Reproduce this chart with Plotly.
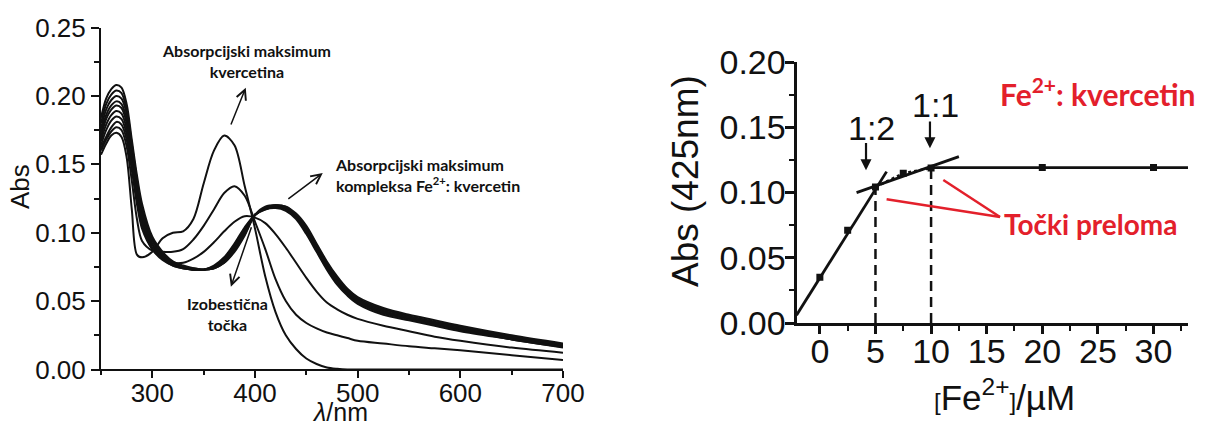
import plotly.graph_objects as go

# ---------------- Left panel: UV-Vis spectra ----------------
wl = [250, 255, 260, 265, 270, 275, 280, 285, 290, 300, 310, 320, 330, 340, 350, 360,
      370, 380, 390, 400, 410, 420, 430, 440, 450, 460, 470, 480, 490, 500, 525, 550,
      575, 600, 650, 700]

abs_quercetin = [.157, .165, .171, .173, .170, .155, .117, .084, .082, .086, .096, .100,
                 .101, .110, .136, .160, .171, .164, .134, .103, .068, .042, .025, .015,
                 .008, .004, .0015, .0005, 0, 0, 0, 0, 0, 0, 0, 0]
abs_fe_1 = [.160, .168, .174, .177, .175, .163, .138, .110, .094, .087, .086, .086, .088,
            .095, .105, .117, .129, .134, .127, .108, .088, .066, .050, .040, .034, .030,
            .027, .025, .023, .021, .019, .017, .0155, .014, .0105, .007]
abs_fe_2 = [.162, .170, .177, .181, .179, .168, .146, .121, .103, .088, .081, .078, .078,
            .081, .086, .093, .101, .108, .112, .111, .107, .099, .089, .078, .067, .057,
            .049, .044, .040, .037, .032, .028, .024, .021, .016, .0123]
abs_fe_3 = [.164, .175, .182, .185, .183, .172, .150, .124, .106, .088, .080, .076, .074,
            .073, .073, .076, .082, .092, .104, .113, .117, .118, .116, .110, .099, .086,
            .073, .062, .054, .048, .040, .036, .032, .028, .022, .016]
abs_fe_4 = [.167, .179, .186, .189, .187, .176, .153, .127, .108, .089, .081, .076, .074,
            .073, .073, .075, .081, .091, .103, .113, .117, .119, .117, .111, .100, .087,
            .074, .063, .055, .049, .041, .037, .033, .029, .022, .0165]
abs_fe_5 = [.170, .183, .190, .193, .191, .180, .156, .130, .111, .091, .082, .077, .074,
            .073, .073, .075, .080, .090, .102, .113, .118, .119, .118, .112, .101, .088,
            .075, .064, .056, .050, .042, .037, .033, .029, .023, .017]
abs_fe_6 = [.173, .186, .193, .196, .194, .183, .159, .133, .113, .092, .083, .077, .075,
            .073, .073, .075, .080, .089, .101, .113, .118, .1195, .118, .112, .102, .089,
            .076, .065, .057, .050, .042, .038, .034, .030, .023, .0175]
abs_fe_7 = [.176, .190, .197, .200, .198, .187, .162, .136, .116, .094, .084, .078, .075,
            .073, .073, .074, .079, .088, .100, .113, .118, .120, .118, .113, .103, .090,
            .077, .066, .057, .051, .043, .038, .034, .030, .024, .018]
abs_fe_8 = [.180, .194, .201, .204, .202, .190, .165, .139, .118, .095, .085, .078, .075,
            .074, .073, .074, .078, .087, .099, .113, .118, .120, .119, .113, .104, .091,
            .078, .067, .058, .052, .044, .039, .035, .031, .024, .0185]
abs_fe_9 = [.184, .198, .205, .208, .206, .194, .168, .142, .121, .097, .086, .079, .076,
            .074, .073, .074, .078, .086, .098, .113, .119, .120, .119, .114, .105, .092,
            .079, .068, .059, .053, .045, .040, .036, .032, .025, .019]

spectra = [abs_quercetin, abs_fe_1, abs_fe_2, abs_fe_3, abs_fe_4, abs_fe_5,
           abs_fe_6, abs_fe_7, abs_fe_8, abs_fe_9]

# ---------------- Right panel: titration at 425 nm ----------------
fe_conc = [0, 2.5, 5, 7.5, 10, 20, 30]
abs_425 = [0.0350, 0.0710, 0.1042, 0.1147, 0.1188, 0.1192, 0.1192]
fit1_x = [-2.1, 6.0]
fit1_y = [0.006, 0.116]
fit2_x = [3.3, 12.5]
fit2_y = [0.0999, 0.1275]
plateau_x = [10, 33.1]
plateau_y = [0.1190, 0.1190]
break_x = [5, 10]
break_y = [0.1042, 0.1188]
break_labels = ["1:2", "1:1"]
red_line1_x = [6.0, 16.2]
red_line1_y = [0.0948, 0.0812]
red_line2_x = [11.1, 16.2]
red_line2_y = [0.1096, 0.0812]

RED = "#e3202b"
TICKFONT_L = dict(family="Liberation Sans, Arial, sans-serif", size=26, color="#111")
TICKFONT_R = dict(family="Liberation Sans, Arial, sans-serif", size=34, color="#111")
ANN_FONT = "Lato, Open Sans, sans-serif"

fig = go.Figure()

for s in spectra:
    fig.add_trace(go.Scatter(x=wl, y=s, mode="lines", xaxis="x", yaxis="y",
                             line=dict(color="#111", width=2, shape="spline", smoothing=0.9),
                             showlegend=False, hoverinfo="skip"))

# right panel traces
fig.add_trace(go.Scatter(x=fit1_x, y=fit1_y, mode="lines", xaxis="x2", yaxis="y2",
                         line=dict(color="#111", width=2.8), showlegend=False))
fig.add_trace(go.Scatter(x=fit2_x, y=fit2_y, mode="lines", xaxis="x2", yaxis="y2",
                         line=dict(color="#111", width=2.8), showlegend=False))
fig.add_trace(go.Scatter(x=plateau_x, y=plateau_y, mode="lines", xaxis="x2", yaxis="y2",
                         line=dict(color="#111", width=2.8), showlegend=False))
for bx, by in zip(break_x, break_y):
    fig.add_trace(go.Scatter(x=[bx, bx], y=[0, by], mode="lines", xaxis="x2", yaxis="y2",
                             line=dict(color="#111", width=2.5, dash="10px,6px"),
                             showlegend=False))
fig.add_trace(go.Scatter(x=fe_conc[2:5], y=abs_425[2:5], mode="lines", xaxis="x2", yaxis="y2",
                         line=dict(color="#111", width=2.5, dash="dot"), showlegend=False))
fig.add_trace(go.Scatter(x=fe_conc, y=abs_425, mode="markers", xaxis="x2", yaxis="y2",
                         marker=dict(symbol="square", size=7, color="#111"),
                         showlegend=False))
for rx, ry in [(red_line1_x, red_line1_y), (red_line2_x, red_line2_y)]:
    fig.add_trace(go.Scatter(x=rx, y=ry, mode="lines", xaxis="x2", yaxis="y2",
                             line=dict(color=RED, width=2.5), showlegend=False))

axis_common = dict(showgrid=False, zeroline=False, showline=True, linecolor="#111",
                   ticks="outside", tickcolor="#111", mirror=False, automargin=False)

fig.update_layout(
    width=1205, height=424,
    margin=dict(l=0, r=0, t=0, b=0),
    paper_bgcolor="white", plot_bgcolor="white",
    xaxis=dict(domain=[0.08382, 0.46722], range=[250, 700], tick0=300, dtick=100,
               ticklen=7, tickwidth=2, linewidth=2, tickfont=TICKFONT_L,
               ticklabelstandoff=-8,
               minor=dict(dtick=50, tick0=250, ticklen=4, tickwidth=1.5, ticks="outside",
                          tickcolor="#111"),
               anchor="y", **axis_common),
    yaxis=dict(domain=[0.12854, 0.93514], range=[0, 0.25], dtick=0.05, tickformat=".2f",
               ticklen=8, tickwidth=2, linewidth=2, tickfont=TICKFONT_L,
               minor=dict(dtick=0.025, ticklen=5, tickwidth=1.5, ticks="outside",
                          tickcolor="#111"),
               anchor="x", **axis_common),
    xaxis2=dict(domain=[0.66100, 0.98589], range=[-2.1, 33.1], tick0=0, dtick=5,
                ticklen=8, tickwidth=2.5, linewidth=3, tickfont=TICKFONT_R,
                ticklabelstandoff=-12,
                minor=dict(dtick=2.5, tick0=0, ticklen=5, tickwidth=2, ticks="outside",
                           tickcolor="#111"),
                anchor="y2", **axis_common),
    yaxis2=dict(domain=[0.23821, 0.85377], range=[0, 0.20], dtick=0.05, tickformat=".2f",
                ticklen=9, tickwidth=2.5, linewidth=3, tickfont=TICKFONT_R,
                ticklabelstandoff=-8,
                minor=dict(dtick=0.025, ticklen=5, tickwidth=2, ticks="outside",
                           tickcolor="#111"),
                anchor="x2", **axis_common),
)

ann = []
# axis titles
ann.append(dict(text="Abs", xref="paper", yref="paper", x=20 / 1205, y=(424 - 187) / 424,
                textangle=-90, showarrow=False, xanchor="center", yanchor="middle",
                font=dict(family="Liberation Sans, Arial", size=26, color="#111")))
ann.append(dict(text="<i>λ</i>/nm", xref="paper", yref="paper", x=340 / 1205,
                y=(424 - 412) / 424, showarrow=False, xanchor="center", yanchor="middle",
                font=dict(family="Liberation Sans, Arial", size=25, color="#111")))
ann.append(dict(text="Abs (425nm)", xref="paper", yref="paper", x=685 / 1205,
                y=(424 - 181) / 424, textangle=-90, showarrow=False, xanchor="center",
                yanchor="middle",
                font=dict(family="Liberation Sans, Arial", size=37, color="#111")))
ann.append(dict(text="<span style='font-size:24px'>[</span>Fe<sup>2+</sup>"
                     "<span style='font-size:24px'>]</span>/µM",
                xref="paper", yref="paper", x=1004 / 1205, y=(424 - 395) / 424,
                showarrow=False, xanchor="center", yanchor="middle",
                font=dict(family="Liberation Sans, Arial", size=35, color="#111")))

# left panel labels
ann.append(dict(text="<b>Absorpcijski maksimum<br>kvercetina</b>", xref="paper", yref="paper",
                x=246 / 1205, y=(424 - 61.5) / 424, showarrow=False, xanchor="center",
                yanchor="middle", align="center",
                font=dict(family=ANN_FONT, size=16, color="#111")))
ann.append(dict(text="<b>Absorpcijski maksimum<br>kompleksa Fe<sup>2+</sup>: kvercetin</b>",
                xref="paper", yref="paper", x=333 / 1205, y=(424 - 175) / 424,
                showarrow=False, xanchor="left", yanchor="middle", align="left",
                font=dict(family=ANN_FONT, size=16, color="#111")))
ann.append(dict(text="<b>Izobestična<br>točka</b>", xref="paper", yref="paper",
                x=227 / 1205, y=(424 - 314) / 424, showarrow=False, xanchor="center",
                yanchor="middle", align="center",
                font=dict(family=ANN_FONT, size=16, color="#111")))

# left arrows (x,y = head; ax,ay = tail)
for hx, hy, tx, ty in [(391, 0.206, 376, 0.178), (466, 0.1436, 431, 0.1239),
                       (376.5, 0.0605, 397, 0.105)]:
    ann.append(dict(text="", x=hx, y=hy, ax=tx, ay=ty, xref="x", yref="y", axref="x",
                    ayref="y", showarrow=True, arrowhead=5, arrowsize=1.3, arrowwidth=1.5,
                    arrowcolor="#111"))

# right panel arrows and ratio labels
for bx, tip, tail, lab, ly in [(4.15, 0.117, 0.139, break_labels[0], 0.1498),
                              (9.9, 0.134, 0.1556, break_labels[1], 0.167)]:
    ann.append(dict(text="", x=bx, y=tip, ax=bx, ay=tail, xref="x2", yref="y2",
                    axref="x2", ayref="y2", showarrow=True, arrowhead=2, arrowsize=1,
                    arrowwidth=2.2, arrowcolor="#111"))
    ann.append(dict(text=lab, x=bx + 0.5, y=ly, xref="x2", yref="y2", showarrow=False,
                    xanchor="center", yanchor="middle",
                    font=dict(family="Liberation Sans, Arial", size=34, color="#111")))

# red annotations
ann.append(dict(text="<b>Fe<sup>2+</sup>: kvercetin</b>", xref="paper", yref="paper",
                x=1098 / 1205, y=(424 - 92) / 424, showarrow=False, xanchor="center",
                yanchor="middle", font=dict(family=ANN_FONT, size=30, color=RED)))
ann.append(dict(text="<b>Točki preloma</b>", xref="paper", yref="paper",
                x=1091 / 1205, y=(424 - 224) / 424, showarrow=False, xanchor="center",
                yanchor="middle", font=dict(family=ANN_FONT, size=28, color=RED)))

fig.update_layout(annotations=ann)
fig.write_html("out.html",
               config={"displayModeBar": False},
               post_script="document.body.style.margin='0px';"
                           "document.body.style.overflow='hidden';")
